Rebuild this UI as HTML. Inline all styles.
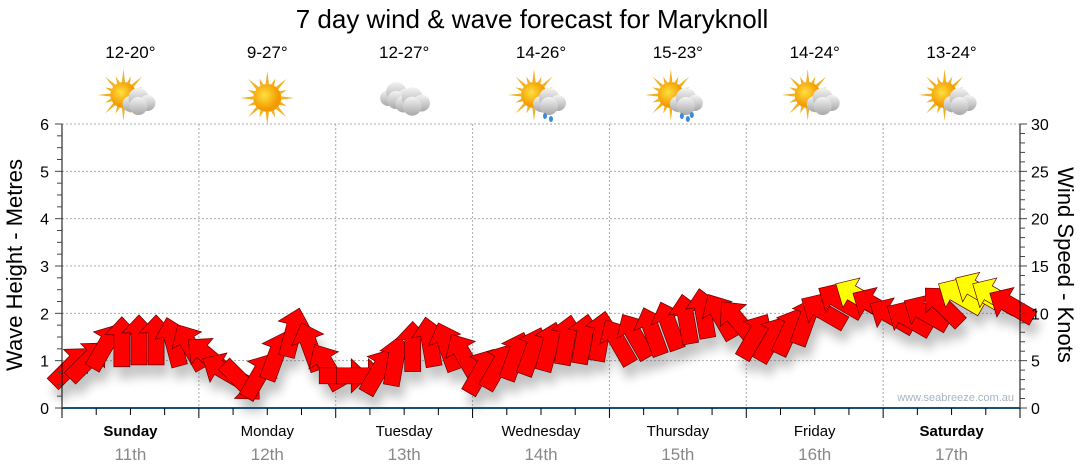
<!DOCTYPE html>
<html><head><meta charset="utf-8"><style>
body{margin:0;background:#fff;}
svg{display:block;font-family:"Liberation Sans",Verdana,sans-serif;}
</style></head><body>
<svg id="c" width="1080" height="475" viewBox="0 0 1080 475">
<defs>
<filter id="sh" x="-50%" y="-50%" width="200%" height="200%"><feGaussianBlur stdDeviation="5"/></filter>
<radialGradient id="sun" cx="0.4" cy="0.4"><stop offset="0" stop-color="#ffe040"/><stop offset="1" stop-color="#f39a00"/></radialGradient>
<linearGradient id="cl" x1="0" y1="0" x2="0" y2="1"><stop offset="0" stop-color="#f4f4f4"/><stop offset="1" stop-color="#a8a8a8"/></linearGradient>
</defs>
<text x="532" y="28" font-size="26" text-anchor="middle" fill="#000">7 day wind &amp; wave forecast for Maryknoll</text>
<g id="grid"></g><g id="shadows" filter="url(#sh)" opacity="0.35"></g><g id="arrows"></g><g id="axes"></g><g id="top"></g>
<text transform="translate(22,265) rotate(-90)" font-size="22" text-anchor="middle">Wave Height - Metres</text>
<text transform="translate(1058,265) rotate(90)" font-size="22" text-anchor="middle">Wind Speed - Knots</text>
<text x="1014" y="401" font-size="11" fill="#a8b4c4" text-anchor="end">www.seabreeze.com.au</text>
</svg>
<script>
const days=["Sunday","Monday","Tuesday","Wednesday","Thursday","Friday","Saturday"];
const dates=["11th","12th","13th","14th","15th","16th","17th"];
const boldDays=[true,false,false,false,false,false,true];
const temps=["12-20°","9-27°","12-27°","14-26°","15-23°","14-24°","13-24°"];
const icons=["partly","sunny","cloudy","shower","rain","partly","partly"];
const waveTicks=[0,1,2,3,4,5,6];
const windTicks=[0,5,10,15,20,25,30];
const windSpeed=[4.4,5,6.5,7,7.2,7.2,7,6.5, 5.5,3.9,2.8,3.4,5.5,8,6.5,4.4, 3.4,3.4,3.9,5,6.5,7,6.5,5.5, 3.9,4.4,5.5,6,6.5,7.2,7.3,7.6, 7,7.6,8.1,8.7,9.4,10,9.7,9.2, 7.6,7.3,8.1,9.2,10.2,11.3,11.8,10.8, 9.7,9.4,10,10.8,11.8,12.4,11.8,10.8];
const windDir=[45,45,30,0,0,0,-15,-30, -50,-60,135,30,20,15,-20,-30, 90,90,30,10,0,-10,-20,-30, 30,30,20,20,15,10,10,10, -30,-30,-20,-20,-10,-10,-30,-40, 30,30,25,20,-60,-60,-60,-60, -60,-60,-60,-45,-60,-60,-60,-60];
const ns="http://www.w3.org/2000/svg";
const X0=62,X1=1020,Y0=408,YT=124;
const dayW=(X1-X0)/7;
const xT=t=>X0+t/56*(X1-X0);
const yWave=v=>Y0-v/6*(Y0-YT);
const yWind=v=>Y0-v/30*(Y0-YT);
function mk(tag,at,par,txt){const e=document.createElementNS(ns,tag);for(const k in at)e.setAttribute(k,at[k]);if(txt!==undefined)e.textContent=txt;document.getElementById(par).appendChild(e);return e;}
waveTicks.forEach(v=>{if(v>0){const l=mk('line',{x1:X0,x2:X1,y1:yWave(v),y2:yWave(v),stroke:'#aaa','stroke-dasharray':'2,2'},'grid');

}});
for(let d=1;d<7;d++){const l=mk('line',{x1:X0+d*dayW,x2:X0+d*dayW,y1:YT,y2:Y0,stroke:'#aaa','stroke-dasharray':'2,2'},'grid');

}
mk('line',{x1:X0,x2:X0,y1:YT,y2:Y0,stroke:'#000'},'axes');
mk('line',{x1:X1,x2:X1,y1:YT,y2:Y0,stroke:'#000'},'axes');
mk('line',{x1:X0,x2:X1,y1:Y0,y2:Y0,stroke:'#1a4f7a','stroke-width':2},'axes');
for(let i=0;i<=24;i++){const y=Y0-i*(Y0-YT)/24;mk('line',{x1:i%4?57:55,x2:X0,y1:y,y2:y,stroke:'#444'},'axes');}
for(let i=0;i<=30;i++){const y=yWind(i);mk('line',{x1:X1,x2:i%5?1025:1027,y1:y,y2:y,stroke:'#444'},'axes');}
waveTicks.forEach(v=>{const t=mk('text',{x:49,y:yWave(v)+6,'font-size':16,'text-anchor':'end'},'axes',v);

});
windTicks.forEach(v=>{const t=mk('text',{x:1031,y:yWind(v)+6,'font-size':16},'axes',v);

});
for(let i=0;i<=28;i++){const x=X0+i*dayW/4;mk('line',{x1:x,x2:x,y1:Y0,y2:Y0+(i%4?7:10),stroke:'#000'},'axes');}
days.forEach((d,i)=>{const cx=X0+(i+0.5)*dayW;
const t=mk('text',{x:cx,y:436,'font-size':15,'text-anchor':'middle','font-weight':boldDays[i]?'bold':'normal'},'axes',d);


const t2=mk('text',{x:cx,y:460,'font-size':17,'text-anchor':'middle',fill:'#888'},'axes',dates[i]);


const t3=mk('text',{x:cx,y:58,'font-size':17,'text-anchor':'middle'},'top',temps[i]);


drawIcon(icons[i],cx,98);});
function sunG(g,cx,cy,r){for(let k=0;k<16;k++){const a=k*Math.PI/8,L=k%2?r+7:r+13;const p=[[cx+Math.cos(a)*L,cy+Math.sin(a)*L],[cx+Math.cos(a+0.12)*r,cy+Math.sin(a+0.12)*r],[cx+Math.cos(a-0.12)*r,cy+Math.sin(a-0.12)*r]];
const e=document.createElementNS(ns,'polygon');e.setAttribute('points',p.join(' '));e.setAttribute('fill','#f0b020');g.appendChild(e);}
const c=document.createElementNS(ns,'circle');c.setAttribute('cx',cx);c.setAttribute('cy',cy);c.setAttribute('r',r);c.setAttribute('fill','url(#sun)');g.appendChild(c);}
function cloud(g,cx,cy,s){[[-8,3,8],[0,-3,10],[9,2,8],[0,5,9]].forEach(q=>{const c=document.createElementNS(ns,'circle');c.setAttribute('cx',cx+q[0]*s);c.setAttribute('cy',cy+q[1]*s);c.setAttribute('r',q[2]*s);c.setAttribute('fill','url(#cl)');g.appendChild(c);});}
function drawIcon(type,cx,cy){const g=mk('g',{},'top');


if(type==='sunny'){sunG(g,cx,cy,14);}
else if(type==='cloudy'){cloud(g,cx-8,cy-3,1);cloud(g,cx+8,cy+3,1.05);}
else{sunG(g,cx-7,cy-3,13);cloud(g,cx+8,cy+3,1);
if(type!=='partly'){[[4,18],[10,21],[14,17]].slice(0,type==='rain'?3:2).forEach(q=>{const d=document.createElementNS(ns,'ellipse');d.setAttribute('cx',cx+q[0]);d.setAttribute('cy',cy+q[1]);d.setAttribute('rx',2);d.setAttribute('ry',3);d.setAttribute('fill','#3a8ad8');g.appendChild(d);});}}}
const shape="M0,-25 L17,-7 L8,-7 L8,25 L-8,25 L-8,-7 L-17,-7 Z";
windSpeed.forEach((v,i)=>{const x=xT(i+0.5),y=yWind(v);
mk('path',{d:shape,transform:`translate(${x+4},${y+12}) rotate(${windDir[i]})`,fill:'#555'},'shadows');
const a=mk('path',{d:shape,transform:`translate(${x},${y}) rotate(${windDir[i]})`,fill:v>=11.5?'#ffff00':'#ff0000',stroke:'#600','stroke-width':0.7},'arrows');

});
</script>
</body></html>
